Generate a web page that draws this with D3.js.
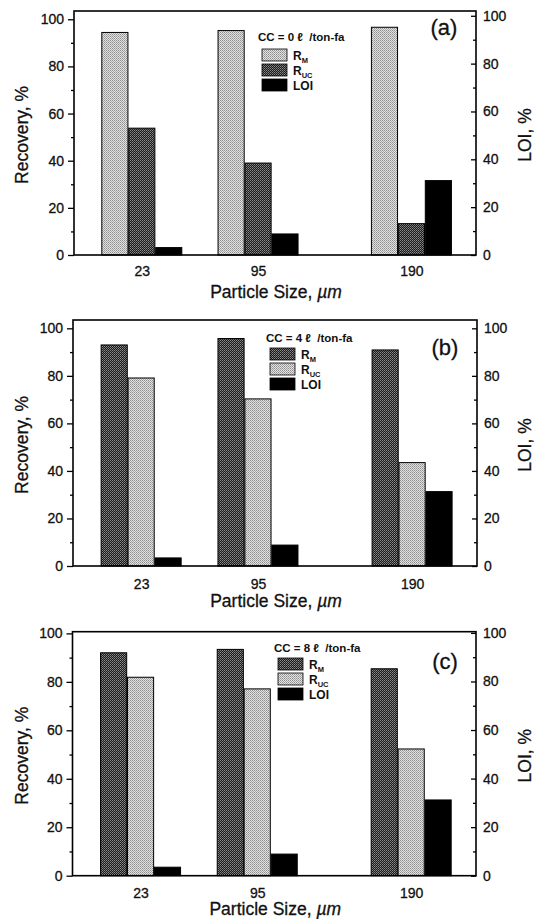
<!DOCTYPE html>
<html><head><meta charset="utf-8">
<script src="https://cdn.jsdelivr.net/npm/d3@7/dist/d3.min.js"></script>
<style>
body{margin:0;background:#fff;}
text{font-family:"Liberation Sans",Arial,sans-serif;fill:#111;stroke:#111;stroke-width:0.3px;}
</style></head>
<body>
<svg id="chart" width="537" height="919"></svg>
<script>
// ---- data ----
const sizes = [23, 95, 190];
const sizeLabels = ["23", "95", "190"];
const seriesKeys = ["RM", "RUC", "LOI"];
const yTicks = [0, 20, 40, 60, 80, 100];
const yMinorTicks = [10, 30, 50, 70, 90];
const ccValues = ["0", "4", "8"];
const panelLetters = ["(a)", "(b)", "(c)"];

// panel (a): CC = 0
const rmA = [94.4, 95.2, 96.6];
const rucA = [53.8, 39.0, 13.3];
const loiA = [3.1, 8.8, 31.1];
// panel (b): CC = 4
const rmB = [93.0, 95.7, 90.9];
const rucB = [79.1, 70.3, 43.5];
const loiB = [3.4, 8.8, 31.3];
// panel (c): CC = 8
const rmC = [92.0, 93.4, 85.4];
const rucC = [81.9, 77.1, 52.3];
const loiC = [3.5, 8.9, 31.2];

// ---- layout (per panel) ----
const panels = [
  {rm: rmA, ruc: rucA, loi: loiA, fills: {RM: "url(#light)", RUC: "url(#dark)", LOI: "#000"},
   left: 74, right: 476, top: 11, bottom: 255, yTop: 103.5, yTopR: 102,
   xPad: 11, xTitleY: 298, legX: 262, legY: 49, legHeadY: 41, letterX: 444, letterY: 35},
  {rm: rmB, ruc: rucB, loi: loiB, fills: {RM: "url(#dark)", RUC: "url(#light)", LOI: "#000"},
   left: 73, right: 477, top: 320, bottom: 566, yTop: 103.5, yTopR: 103.5,
   xPad: 13, xTitleY: 607, legX: 270, legY: 348, legHeadY: 342, letterX: 445, letterY: 355},
  {rm: rmC, ruc: rucC, loi: loiC, fills: {RM: "url(#dark)", RUC: "url(#light)", LOI: "#000"},
   left: 72.5, right: 476, top: 631.7, bottom: 875.7, yTop: 100.7, yTopR: 100.5,
   xPad: 12, xTitleY: 915, legX: 278, legY: 658, legHeadY: 652, letterX: 445, letterY: 669}
];

const svg = d3.select("#chart");
const defs = svg.append("defs");
const pl = defs.append("pattern").attr("id", "light").attr("width", 2).attr("height", 2)
  .attr("patternUnits", "userSpaceOnUse");
pl.append("rect").attr("width", 2).attr("height", 2).attr("fill", "#e2e2e2");
pl.append("rect").attr("x", 0).attr("y", 0).attr("width", 1).attr("height", 1).attr("fill", "#8e8e8e");
pl.append("rect").attr("x", 1).attr("y", 1).attr("width", 1).attr("height", 1).attr("fill", "#a8a8a8");
const pd = defs.append("pattern").attr("id", "dark").attr("width", 2).attr("height", 2)
  .attr("patternUnits", "userSpaceOnUse");
pd.append("rect").attr("width", 2).attr("height", 2).attr("fill", "#1c1c1c");
pd.append("rect").attr("x", 0).attr("y", 0).attr("width", 1).attr("height", 1).attr("fill", "#8c8c8c");
pd.append("rect").attr("x", 1).attr("y", 1).attr("width", 1).attr("height", 1).attr("fill", "#6a6a6a");

panels.forEach((p, pi) => {
  const g = svg.append("g");
  const x = d3.scaleLinear().domain([-19, 230]).range([p.left, p.right]);
  const y = d3.scaleLinear().domain([0, p.yTop]).range([p.bottom, p.top]);
  const yR = d3.scaleLinear().domain([0, p.yTopR]).range([p.bottom, p.top]);
  const sub = d3.scaleBand().domain(seriesKeys).range([-40, 40]).paddingInner(0.03);

  const vals = {RM: p.rm, RUC: p.ruc, LOI: p.loi};
  const rows = [];
  sizes.forEach((s, i) => seriesKeys.forEach(k => rows.push({size: s, key: k, v: vals[k][i]})));

  g.selectAll("rect.bar").data(rows).join("rect").attr("class", "bar")
    .attr("x", d => x(d.size) + sub(d.key))
    .attr("width", sub.bandwidth())
    .attr("y", d => (d.key === "LOI" ? yR : y)(d.v))
    .attr("height", d => p.bottom - (d.key === "LOI" ? yR : y)(d.v))
    .attr("fill", d => p.fills[d.key])
    .attr("stroke", "#000").attr("stroke-width", 1);

  // frame
  g.append("rect").attr("x", p.left).attr("y", p.top)
    .attr("width", p.right - p.left).attr("height", p.bottom - p.top)
    .attr("fill", "none").attr("stroke", "#000").attr("stroke-width", 1.6);

  // left axis
  const ax = g.append("g").attr("transform", `translate(${p.left},0)`)
    .call(d3.axisLeft(y).tickValues(yTicks).tickSize(6).tickPadding(4));
  ax.append("g").call(d3.axisLeft(y).tickValues(yMinorTicks).tickSize(3).tickFormat(""));
  // right axis
  const axR = g.append("g").attr("transform", `translate(${p.right},0)`)
    .call(d3.axisRight(yR).tickValues(yTicks).tickSize(-5).tickPadding(7));
  axR.append("g").call(d3.axisRight(yR).tickValues(yMinorTicks).tickSize(-3).tickFormat(""));
  // bottom axis
  const axB = g.append("g").attr("transform", `translate(0,${p.bottom})`)
    .call(d3.axisBottom(x).tickValues(sizes).tickFormat((d, i) => sizeLabels[i]).tickSize(0).tickPadding(p.xPad));
  [ax, axR, axB].forEach(a => {
    a.selectAll(".domain").remove();
    a.selectAll("line").attr("stroke", "#000").attr("stroke-width", 1.3);
    a.selectAll("text").attr("font-size", 14).attr("fill", "#111")
      .attr("font-family", "'Liberation Sans',Arial,sans-serif");
  });

  // axis titles
  const xt = g.append("text").attr("x", (p.left + p.right) / 2 + 1).attr("y", p.xTitleY)
    .attr("text-anchor", "middle").attr("font-size", 17.5);
  xt.append("tspan").text("Particle Size, ");
  xt.append("tspan").attr("font-style", "italic").text("µm");
  const cy = (p.top + p.bottom) / 2 + 2;
  g.append("text").attr("transform", `translate(28,${cy}) rotate(-90)`)
    .attr("text-anchor", "middle").attr("font-size", 17.5).text("Recovery, %");
  g.append("text").attr("transform", `translate(531,${cy}) rotate(-90)`)
    .attr("text-anchor", "middle").attr("font-size", 17.5).text("LOI, %");

  // panel letter
  g.append("text").attr("x", p.letterX).attr("y", p.letterY).attr("text-anchor", "middle")
    .attr("font-size", 22).text(panelLetters[pi]);

  // legend
  g.append("text").attr("x", p.legX - 4).attr("y", p.legHeadY).attr("font-size", 11.5)
    .attr("font-weight", "bold").style("stroke-width", "0px")
    .text(`CC = ${ccValues[pi]} ℓ\u00a0\u00a0/ton-fa`);
  const leg = g.append("g");
  seriesKeys.forEach((k, i) => {
    const yy = p.legY + i * 15;
    leg.append("rect").attr("x", p.legX).attr("y", yy).attr("width", 25).attr("height", 12)
      .attr("fill", p.fills[k]).attr("stroke", "#000").attr("stroke-width", 0.8);
    const t = leg.append("text").attr("x", p.legX + 31).attr("y", yy + 10.5)
      .attr("font-size", 12).attr("font-weight", "bold").style("stroke-width", "0px");
    if (k === "LOI") t.text("LOI");
    else {
      t.append("tspan").text("R");
      t.append("tspan").attr("font-size", 7.5).attr("dy", 3).text(k === "RM" ? "M" : "UC");
    }
  });
});
</script>
</body></html>
